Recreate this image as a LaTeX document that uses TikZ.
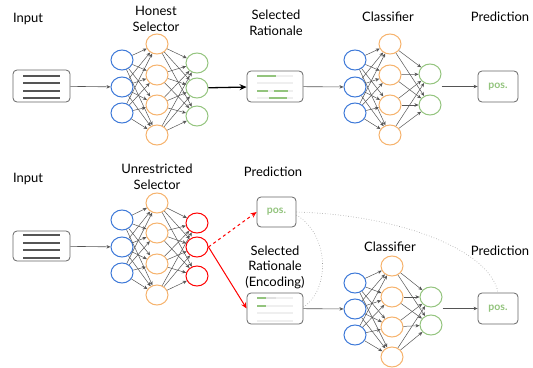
\documentclass[tikz,border=0pt]{standalone}
\usepackage{fontspec}
\setmainfont{Lato}
\usetikzlibrary{shapes.geometric,arrows.meta}
\definecolor{nblue}{HTML}{3C78D8}
\definecolor{norange}{HTML}{F6B26B}
\definecolor{ngreen}{HTML}{93C47D}
\definecolor{nred}{HTML}{FF0000}
\definecolor{egray}{HTML}{555555}
\definecolor{boxgray}{HTML}{666666}
\definecolor{bargray}{HTML}{EFEFEF}
\tikzset{
  neuron/.style={ellipse, minimum width=22pt, minimum height=20pt, inner sep=0pt, line width=1pt, fill=white},
  bn/.style={neuron, draw=nblue},
  on/.style={neuron, draw=norange},
  gn/.style={neuron, draw=ngreen},
  rn/.style={neuron, draw=nred},
  edge/.style={draw=egray, line width=0.5pt, -{Stealth[length=4pt,width=3.5pt]}},
  conn/.style={draw=egray, line width=0.6pt, -{Stealth[length=4pt,width=3.5pt]}},
  box/.style={draw=boxgray, rounded corners=4pt, line width=0.8pt, fill=white, inner sep=0pt},
  predbox/.style={box, minimum width=40pt, minimum height=31pt, text=ngreen, font=\bfseries\fontsize{10.5}{12}\selectfont},
  lbl/.style={align=center, font=\fontsize{13}{15.5}\selectfont, inner sep=0pt},
  tline/.style={draw=egray, line width=2pt},
  gbar/.style={draw=bargray, line width=2.5pt},
  grbar/.style={draw=ngreen, line width=2.5pt},
  dotc/.style={draw=gray!80, dotted, line width=0.6pt},
}
\begin{document}
\begin{tikzpicture}[x=1pt, y=-1pt]
\useasboundingbox (0,0) rectangle (533,367);

% ---------------- TOP ROW ----------------
\node[lbl] (tinl) at (28,19) {Input};
\node[box, minimum width=57pt, minimum height=32pt] (in1) at (41.5,86) {};
\foreach \yy in {76,83,91,98} \draw[tline] (23,\yy) -- (60,\yy);

\node[lbl] (hsl) at (156,19) {Honest\\Selector};
\foreach \yy [count=\i] in {60,87,113} \node[bn] (sa\i) at (122,\yy) {};
\foreach \yy [count=\i] in {44,75,105,135} \node[on] (sb\i) at (157,\yy) {};
\foreach \yy [count=\i] in {63,88,116} \node[gn] (sc\i) at (197,\yy) {};
\foreach \i in {1,2,3} \foreach \j in {1,2,3,4} \draw[edge] (sa\i) -- (sb\j);
\foreach \i in {1,2,3,4} \foreach \j in {1,2,3} \draw[edge] (sb\i) -- (sc\j);
\draw[conn] (in1) -- (sa2);

\node[lbl] (srl) at (276,23) {Selected\\Rationale};
\node[box, minimum width=56pt, minimum height=31pt] (rat1) at (275,86.5) {};
\foreach \yy in {76,83,91,98} \draw[gbar] (257,\yy) -- (293,\yy);
\draw[grbar] (257,76) -- (276,76);
\draw[grbar] (257,91) -- (268,91);
\draw[grbar] (274,91) -- (288,91);
\draw[grbar] (269,98) -- (287,98);
\draw[black, line width=1.3pt, -{Stealth[length=7pt,width=6pt]}] (sc2) -- (rat1);

\node[lbl] (cl1) at (388,17) {Classifier};
\foreach \yy [count=\i] in {60,87,113} \node[bn] (ca\i) at (355,\yy) {};
\foreach \yy [count=\i] in {44,75,105,135} \node[on] (cb\i) at (390,\yy) {};
\foreach \yy [count=\i] in {74,105} \node[gn] (cc\i) at (430,\yy) {};
\foreach \i in {1,2,3} \foreach \j in {1,2,3,4} \draw[edge] (ca\i) -- (cb\j);
\foreach \i in {1,2,3,4} \foreach \j in {1,2} \draw[edge] (cb\i) -- (cc\j);
\draw[conn] (rat1) -- (ca2);

\node[lbl] (pl1) at (500,17) {Prediction};
\node[predbox] (pred1) at (498,86.5) {pos.};
\draw[conn] (cc1.east |- pred1) -- (pred1);

% ---------------- BOTTOM ROW ----------------
\node[lbl] (binl) at (28,179) {Input};
\node[box, minimum width=57pt, minimum height=30pt] (in2) at (41.5,246) {};
\foreach \yy in {235,243,250,258} \draw[tline] (23,\yy) -- (60,\yy);

\node[lbl] (usl) at (157,177) {Unrestricted\\Selector};
\foreach \yy [count=\i] in {220,247,273} \node[bn] (ua\i) at (122,\yy) {};
\foreach \yy [count=\i] in {203,233,264,295} \node[on] (ub\i) at (157,\yy) {};
\foreach \yy [count=\i] in {223,247,276} \node[rn] (uc\i) at (197,\yy) {};
\foreach \i in {1,2,3} \foreach \j in {1,2,3,4} \draw[edge] (ua\i) -- (ub\j);
\foreach \i in {1,2,3,4} \foreach \j in {1,2,3} \draw[edge] (ub\i) -- (uc\j);
\draw[conn] (in2) -- (ua2);

\node[lbl] (pl2) at (273,172) {Prediction};
\node[predbox, minimum width=39pt, minimum height=30pt] (pred2) at (276.5,212) {pos.};

\node[lbl] (srel) at (275,267) {Selected\\Rationale\\(Encoding)};
\node[box, minimum width=56pt, minimum height=31pt] (enc) at (275,308.5) {};
\foreach \yy in {298,306,313,321} \draw[gbar] (257,\yy) -- (293,\yy);
\draw[draw=black!12, line width=2.5pt] (257,298) -- (276,298);
\draw[grbar] (257,298) -- (266,298);
\draw[grbar] (257,306) -- (266,306);

\draw[nred, line width=1pt, dashed, -{Stealth[length=6pt,width=5pt]}] (uc2.east) -- (pred2.west);
\draw[nred, line width=1pt, -{Stealth[length=6pt,width=5pt]}] (uc2.east) -- (enc.west);

\node[lbl] (cl2) at (390,247) {Classifier};
\foreach \yy [count=\i] in {283,309,335} \node[bn] (da\i) at (355,\yy) {};
\foreach \yy [count=\i] in {266,297,327,357} \node[on] (db\i) at (392,\yy) {};
\foreach \yy [count=\i] in {297,325} \node[gn] (dc\i) at (431,\yy) {};
\foreach \i in {1,2,3} \foreach \j in {1,2,3,4} \draw[edge] (da\i) -- (db\j);
\foreach \i in {1,2,3,4} \foreach \j in {1,2} \draw[edge] (db\i) -- (dc\j);
\draw[conn] (enc) -- (da2);

\node[lbl] (pl3) at (500,251) {Prediction};
\node[predbox] (pred3) at (498,308.5) {pos.};
\draw[conn] (dc1.east |- pred3) -- (pred3);

% dotted links
\draw[dotc] (pred2.east) .. controls (400,215) and (490,250) .. (pred3.north);
\draw[dotc] ([yshift=-3pt]pred2.east) .. controls (330,235) and (330,290) .. ([yshift=1.5pt]enc.east);
\end{tikzpicture}
\end{document}
